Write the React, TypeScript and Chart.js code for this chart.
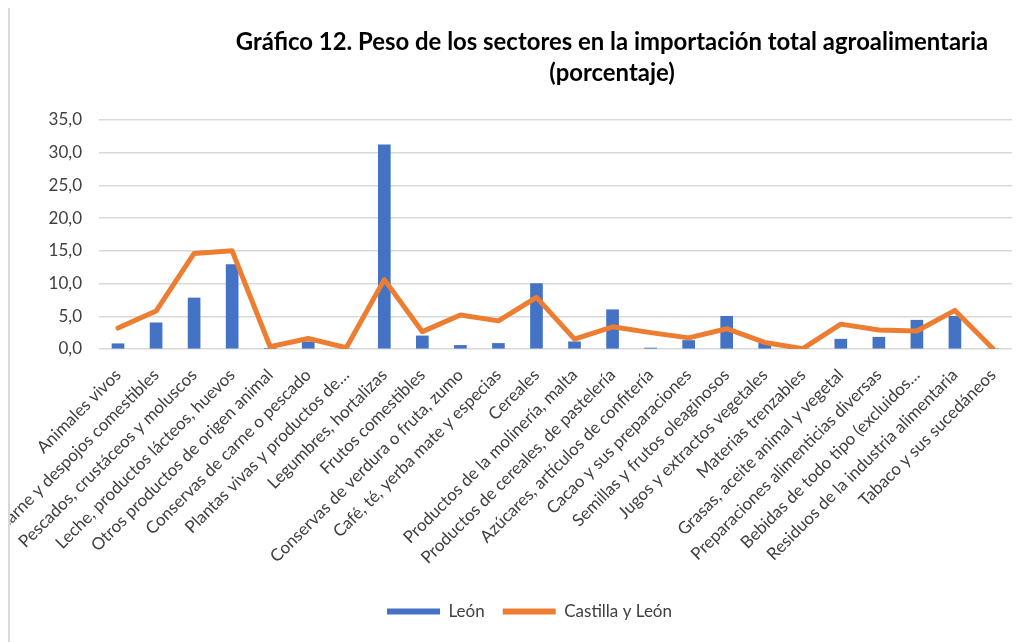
import React, { useEffect, useRef } from "react";
import { Chart, registerables } from "chart.js";

Chart.register(...registerables);

const categories = [
  "Animales vivos",
  "Carne y despojos comestibles",
  "Pescados, crustáceos y moluscos",
  "Leche, productos lácteos, huevos",
  "Otros productos de origen animal",
  "Conservas de carne o pescado",
  "Plantas vivas y productos de…",
  "Legumbres, hortalizas",
  "Frutos comestibles",
  "Conservas de verdura o fruta, zumo",
  "Café, té, yerba mate y especias",
  "Cereales",
  "Productos de la molinería, malta",
  "Productos de cereales, de pastelería",
  "Azúcares, artículos de confitería",
  "Cacao y sus preparaciones",
  "Semillas y frutos oleaginosos",
  "Jugos y extractos vegetales",
  "Materias trenzables",
  "Grasas, aceite animal y vegetal",
  "Preparaciones alimenticias diversas",
  "Bebidas de todo tipo (excluidos…",
  "Residuos de la industria alimentaria",
  "Tabaco y sus sucedáneos",
];

const leonValues = [
  0.8, 4.0, 7.8, 12.9, 0.1, 1.1, 0.0, 31.2, 2.0, 0.55, 0.85, 10.0,
  1.1, 6.0, 0.15, 1.3, 5.0, 0.9, 0.0, 1.5, 1.8, 4.4, 5.0, 0.0,
];

const castillaLeonValues = [
  3.2, 5.8, 14.6, 15.0, 0.35, 1.6, 0.2, 10.6, 2.65, 5.2, 4.3, 7.9,
  1.5, 3.4, 2.5, 1.7, 3.1, 1.0, 0.05, 3.8, 2.9, 2.75, 5.9, 0.05,
];

const seriesNames = ["León", "Castilla y León"];
const titleLines = [
  "Gráfico 12. Peso de los sectores en la importación total agroalimentaria",
  "(porcentaje)",
];
const yTicksMax = 35;
const yTicksStep = 5;

const FONT = "Lato, 'Open Sans', sans-serif";

export default function App() {
  const ref = useRef<HTMLCanvasElement | null>(null);

  useEffect(() => {
    if (!ref.current) return;

    const titlePlugin = {
      id: "customTitle",
      afterDraw(chart: any) {
        const ctx = chart.ctx;
        ctx.save();
        ctx.fillStyle = "#000000";
        ctx.font = `bold 23.9px ${FONT}`;
        ctx.textAlign = "center";
        ctx.textBaseline = "alphabetic";
        const cx = 602;
        ctx.fillText(titleLines[0], cx, 43);
        ctx.fillText(titleLines[1], cx, 74);
        ctx.restore();
      },
    };

    const chart = new Chart(ref.current, {
      type: "bar",
      data: {
        labels: categories,
        datasets: [
          {
            type: "bar",
            label: seriesNames[0],
            data: leonValues,
            backgroundColor: "#4472C4",
            borderWidth: 0,
            barThickness: 12,
            order: 1,
          },
          {
            type: "line",
            label: seriesNames[1],
            data: castillaLeonValues,
            borderColor: "#ED7D31",
            backgroundColor: "#ED7D31",
            borderWidth: 5,
            pointRadius: 0,
            pointHoverRadius: 0,
            tension: 0,
            borderJoinStyle: "round",
            borderCapStyle: "round",
            order: 0,
          },
        ] as any,
      },
      options: {
        animation: false,
        responsive: false,
        maintainAspectRatio: false,
        layout: {
          padding: { left: 37, right: 15, top: 113, bottom: 12 },
        },
        scales: {
          x: {
            grid: { display: false },
            border: { display: false },
            ticks: {
              autoSkip: false,
              maxRotation: 45,
              minRotation: 45,
              padding: 8,
              color: "#404040",
              font: { family: FONT, size: 17 },
            },
            afterFit(scale: any) {
              scale.height = 236;
            },
          },
          y: {
            min: 0,
            max: yTicksMax,
            grid: {
              color: "#D9D9D9",
              lineWidth: 1.5,
              drawTicks: false,
            },
            border: { display: false },
            ticks: {
              stepSize: yTicksStep,
              padding: 17,
              color: "#404040",
              font: { family: FONT, size: 17 },
              callback: (v: any) => Number(v).toFixed(1).replace(".", ","),
            },
            afterFit(scale: any) {
              scale.width = 52;
            },
          },
        },
        plugins: {
          title: { display: false },
          tooltip: { enabled: false },
          legend: {
            position: "bottom",
            labels: {
              boxWidth: 53,
              boxHeight: 6,
              padding: 18,
              color: "#404040",
              font: { family: FONT, size: 17 },
              sort: (a: any, b: any) => a.datasetIndex - b.datasetIndex,
              generateLabels: (c: any) => {
                const items = (Chart.defaults.plugins.legend.labels as any).generateLabels(c);
                return items.map((it: any) => ({
                  ...it,
                  fillStyle: it.datasetIndex === 1 ? "#ED7D31" : "#4472C4",
                  lineWidth: 0,
                }));
              },
            },
          },
        },
      } as any,
      plugins: [titlePlugin],
    });

    return () => chart.destroy();
  }, []);

  return (
    <div
      style={{
        marginTop: -3,
        borderLeft: "2px solid #D9D9D9",
        borderTop: "2px solid #D9D9D9",
        width: 1017,
        height: 635,
      }}
    >
      <canvas ref={ref} width={1017} height={635} style={{ display: "block", width: 1017, height: 635 }} />
    </div>
  );
}
